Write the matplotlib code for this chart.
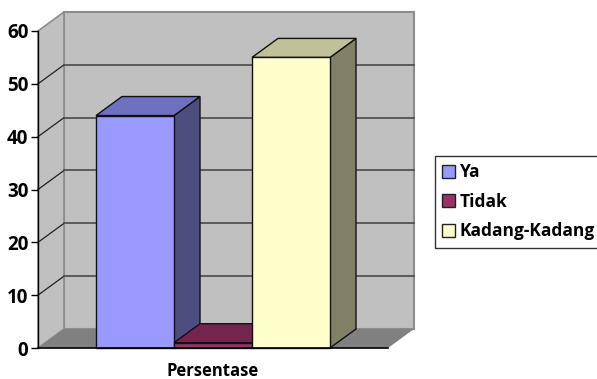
# -*- coding: utf-8 -*-
import matplotlib
matplotlib.use("Agg")
import matplotlib.pyplot as plt
from matplotlib.patches import Polygon, Patch

labels = ["Ya", "Tidak", "Kadang-Kadang"]
values = [44, 1, 55]
front = ["#9999ff", "#993366", "#ffffcc"]
top = ["#7070c0", "#73264d", "#c0c09a"]
side = ["#4d4d80", "#4d1a33", "#808066"]
yticks = [0, 10, 20, 30, 40, 50, 60]
category = "Persentase"

W, H = 597, 379
plt.rcParams["font.family"] = ["Open Sans", "DejaVu Sans"]
fig = plt.figure(figsize=(W / 100., H / 100.), dpi=100)
# front plane of the 3d box
ax = fig.add_axes([38. / W, 1 - 348. / H, 350. / W, 317. / H])
margin = 58 / 78.
ax.set_xlim(-margin, 3 + margin)
ax.set_ylim(0, 60)
dx = 26 / 78.
dy = 19 / 5.283
x0, x1 = -margin, 3 + margin
wall = "#c0c0c0"
edge = "#8c8c8c"


def poly(pts, fc, ec="none", lw=0.0, z=1):
    ax.add_patch(Polygon(pts, closed=True, facecolor=fc, edgecolor=ec,
                         linewidth=lw, zorder=z, clip_on=False))


# walls and floor
poly([(x0 + dx, dy), (x1 + dx, dy), (x1 + dx, 60 + dy), (x0 + dx, 60 + dy)], wall, edge, 1.5)
poly([(x0, 0), (x0 + dx, dy), (x0 + dx, 60 + dy), (x0, 60)], wall, edge, 1.2)
poly([(x0, 0), (x1, 0), (x1 + dx, dy), (x0 + dx, dy)], "#808080", z=2)

# grid on side and back wall, the top one is just the wall edge
for t in yticks[1:-1]:
    ax.plot([x0, x0 + dx], [t, t + dy], color="#222222", lw=0.9, zorder=2, clip_on=False)
    ax.plot([x0 + dx, x1 + dx], [t + dy, t + dy], color="#4a4a4a", lw=1.2, zorder=2, clip_on=False)

# bars, one unit wide and drawn back to front
for i, v in enumerate(values):
    l, r = float(i), i + 1.0
    poly([(r, 0), (r + dx, dy), (r + dx, v + dy), (r, v)], side[i], "#111111", 1.0, 3 + i)
    poly([(l, v), (r, v), (r + dx, v + dy), (l + dx, v + dy)], top[i], "#111111", 1.0, 3 + i)
    poly([(l, 0), (r, 0), (r, v), (l, v)], front[i], "#111111", 1.0, 3 + i)

for s in ["top", "right", "bottom"]:
    ax.spines[s].set_visible(False)
ax.spines["left"].set_linewidth(1.0)
ax.spines["left"].set_zorder(20)
ax.plot([x0, x1], [0, 0], color="black", lw=1.2, zorder=20, clip_on=False)
ax.patch.set_visible(False)

ax.set_yticks(yticks)
ax.tick_params(axis="y", length=5, width=1.0, pad=2, labelsize=13.5)
for lab in ax.get_yticklabels():
    lab.set_fontweight("bold")
ax.set_xticks([1.5])
ax.set_xticklabels([category], fontweight="bold", fontsize=12)
ax.tick_params(axis="x", length=0, pad=10)

handles = [Patch(facecolor=c, edgecolor="#222222", linewidth=1.0) for c in front]
fig.legend(handles, labels, loc="upper left", bbox_to_anchor=(435. / W, 1 - 156. / H),
           bbox_transform=fig.transFigure, borderaxespad=0, fancybox=False, framealpha=1,
           edgecolor="#333333", prop={"weight": "bold", "size": 12.5}, handlelength=0.75,
           handleheight=0.75, handletextpad=0.25, labelspacing=0.66, borderpad=0.42)

fig.savefig("out.png", dpi=100)
